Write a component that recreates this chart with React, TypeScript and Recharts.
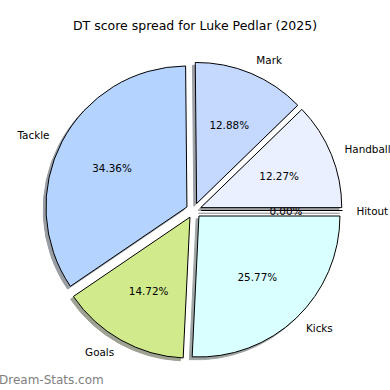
import { Pie, PieChart } from "recharts";

// DT points by source, counter-clockwise from 3 o'clock
const categories = ["Hitout", "Handball", "Mark", "Tackle", "Goals", "Kicks"];
const points = [0, 20, 21, 56, 24, 42];
const sliceColors = ["#f0f4ff", "#eaf0ff", "#c5d9ff", "#b4d4ff", "#d1eb8c", "#d9ffff"];

const title = "DT score spread for Luke Pedlar (2025)";

const data = categories.map((name, i) => ({ name, value: points[i] }));

const FONT = "DejaVu Sans, sans-serif";
const LABEL_SIZE = 10.4;
const EXPLODE = 0.054;
const RAD = Math.PI / 180;

function wedgePath(cx: number, cy: number, r: number, a0: number, a1: number) {
  const x0 = cx + r * Math.cos(a0 * RAD);
  const y0 = cy - r * Math.sin(a0 * RAD);
  const x1 = cx + r * Math.cos(a1 * RAD);
  const y1 = cy - r * Math.sin(a1 * RAD);
  const large = a1 - a0 > 180 ? 1 : 0;
  if (a1 - a0 <= 0) return `M${cx},${cy}L${x0},${y0}Z`;
  return `M${cx},${cy}L${x0},${y0}A${r},${r} 0 ${large} 0 ${x1},${y1}Z`;
}

function shade(hex: string) {
  const n = parseInt(hex.slice(1), 16);
  const r = Math.round(((n >> 16) & 255) * 0.3);
  const g = Math.round(((n >> 8) & 255) * 0.3);
  const b = Math.round((n & 255) * 0.3);
  return `rgb(${r},${g},${b})`;
}

function geometry(props: any) {
  const { cx, cy, outerRadius, startAngle, endAngle } = props;
  const mid = (startAngle + endAngle) / 2;
  const ox = cx + EXPLODE * outerRadius * Math.cos(mid * RAD);
  const oy = cy - EXPLODE * outerRadius * Math.sin(mid * RAD);
  return { ox, oy, r: outerRadius, a0: startAngle, a1: endAngle, mid };
}

const renderShadow = (props: any) => {
  const { ox, oy, r, a0, a1 } = geometry(props);
  const c = shade(sliceColors[props.index]);
  return (
    <path
      d={wedgePath(ox - 2.8, oy + 2.8, r, a0, a1)}
      fill={c}
      stroke={c}
      strokeWidth={1}
      opacity={0.5}
    />
  );
};

const renderWedge = (props: any) => {
  const { ox, oy, r, a0, a1, mid } = geometry(props);
  const cos = Math.cos(mid * RAD);
  const sin = Math.sin(mid * RAD);
  return (
    <g>
      <path
        d={wedgePath(ox, oy, r, a0, a1)}
        fill={sliceColors[props.index]}
        stroke="#000"
        strokeWidth={1}
      />
      <text
        x={ox + 0.6 * r * cos}
        y={oy - 0.6 * r * sin}
        textAnchor="middle"
        dominantBaseline="central"
        fontFamily={FONT}
        fontSize={LABEL_SIZE}
        fill="#000"
      >
        {(props.percent * 100).toFixed(2)}%
      </text>
      <text
        x={ox + 1.1 * r * cos}
        y={oy - 1.1 * r * sin}
        textAnchor={cos >= 0 ? "start" : "end"}
        dominantBaseline="central"
        fontFamily={FONT}
        fontSize={LABEL_SIZE}
        fill="#000"
      >
        {props.name}
      </text>
    </g>
  );
};

export default function App() {
  return (
    <div style={{ position: "absolute", left: 0, top: 0, width: 390, height: 390, background: "#fff", overflow: "hidden" }}>
      <PieChart width={390} height={390} margin={{ top: 0, right: 0, bottom: 0, left: 0 }}>
        <text x={195} y={29.5} textAnchor="middle" fontFamily={FONT} fontSize={12.5} fill="#000">
          {title}
        </text>
        <Pie
          data={data}
          dataKey="value"
          nameKey="name"
          cx={193.7}
          cy={210.5}
          outerRadius={141}
          startAngle={0}
          endAngle={360}
          fill="none"
          stroke="none"
          label={renderShadow}
          labelLine={false}
          isAnimationActive={false}
        />
        <Pie
          data={data}
          dataKey="value"
          nameKey="name"
          cx={193.7}
          cy={210.5}
          outerRadius={141}
          startAngle={0}
          endAngle={360}
          fill="none"
          stroke="none"
          label={renderWedge}
          labelLine={false}
          isAnimationActive={false}
        />
        <text x={-1} y={384} fontFamily={FONT} fontSize={12} fill="#808080">
          Dream-Stats.com
        </text>
      </PieChart>
    </div>
  );
}
